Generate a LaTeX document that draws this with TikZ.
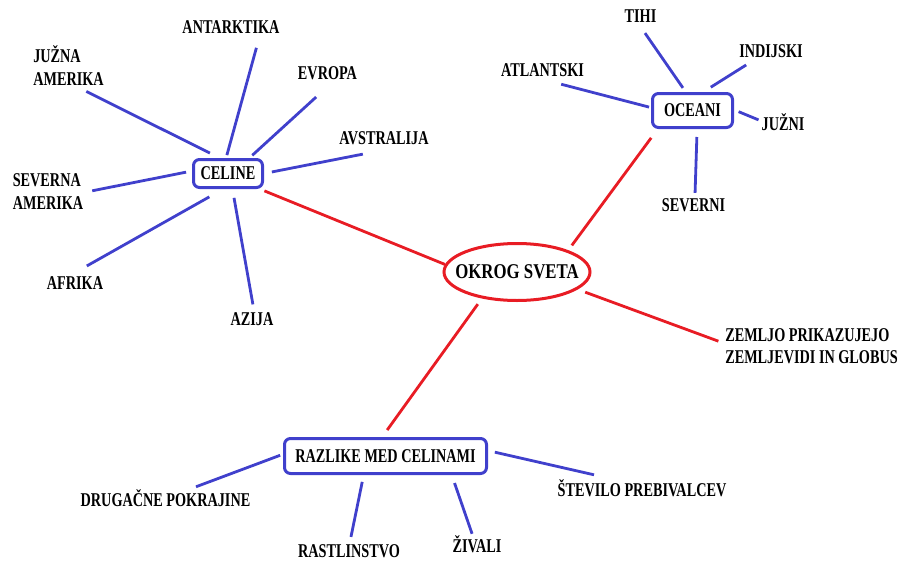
\documentclass[tikz,border=0pt]{standalone}
\usepackage{fontspec}
\setmainfont{Liberation Serif}
\newfontfamily\mapfont{Liberation Serif}[FakeStretch=0.73]
\newfontfamily\hubfont{Liberation Serif}[FakeStretch=0.8]
\usetikzlibrary{shapes.geometric}
\definecolor{mapblue}{RGB}{64,64,204}
\definecolor{mapred}{RGB}{232,28,36}
\tikzset{
  lbl/.style={font=\mapfont\bfseries\fontsize{19.5}{22}\selectfont,
    inner sep=2pt, text height=13pt, text depth=1pt},
  lbltwo/.style={font=\mapfont\bfseries\fontsize{19.5}{22.5}\selectfont,
    inner sep=2pt, align=left},
  hub/.style={draw=mapblue, line width=3pt, rounded corners=6pt,
    inner sep=0pt, text height=13pt, text depth=1pt,
    font=\mapfont\bfseries\fontsize{19.5}{22}\selectfont},
  mainhub/.style={ellipse, draw=mapred, line width=3pt,
    inner xsep=-16pt, inner ysep=0pt, text height=14pt, text depth=1pt,
    minimum width=146pt, minimum height=57pt,
    font=\hubfont\bfseries\fontsize{21}{24}\selectfont},
  blueline/.style={draw=mapblue, line width=2.8pt},
  redline/.style={draw=mapred, line width=2.8pt}
}
\begin{document}
\begin{tikzpicture}[x=1pt,y=-1pt]
  \useasboundingbox (0,0) rectangle (900,562);
  \node[mainhub] (okrog) at (517,272) {OKROG SVETA};
  \node[hub, minimum width=69pt, minimum height=28pt] (celine) at (228,173.5) {CELINE};
  \node[hub, minimum width=80pt, minimum height=34pt] (oceani) at (692.5,110.5) {OCEANI};
  \node[hub, minimum width=202pt, minimum height=35pt] (razlike) at (385.5,456) {RAZLIKE MED CELINAMI};

  \node[lbl] (antarktika) at (231,28) {ANTARKTIKA};
  \node[lbltwo] (juzna) at (68.5,65.5) {JUŽNA\\AMERIKA};
  \node[lbl] (evropa) at (327.5,73) {EVROPA};
  \node[lbl] (avstralija) at (384,138) {AVSTRALIJA};
  \node[lbltwo] (severna) at (48,191.5) {SEVERNA\\AMERIKA};
  \node[lbl] (afrika) at (75,283.5) {AFRIKA};
  \node[lbl] (azija) at (252,319.5) {AZIJA};

  \node[lbl] (tihi) at (640.5,16.5) {TIHI};
  \node[lbl] (indijski) at (771,51.5) {INDIJSKI};
  \node[lbl] (atlantski) at (542.5,70.5) {ATLANTSKI};
  \node[lbl] (juzni) at (783,124) {JUŽNI};
  \node[lbl] (severni) at (693.5,205.5) {SEVERNI};

  \node[lbltwo] (zemljo) at (811.5,346) {ZEMLJO PRIKAZUJEJO\\ZEMLJEVIDI IN GLOBUS};

  \node[lbl] (drugacne) at (165.5,500) {DRUGAČNE POKRAJINE};
  \node[lbl] (rastlinstvo) at (349,551) {RASTLINSTVO};
  \node[lbl] (zivali) at (477,546.5) {ŽIVALI};
  \node[lbl] (stevilo) at (642,490) {ŠTEVILO PREBIVALCEV};

  \begin{scope}[blueline]
    \draw[shorten <=11pt, shorten >=9pt] (celine.118) -- (juzna.-66);
    \draw[shorten <=3pt, shorten >=11pt] (celine.97) -- (antarktika.-18);
    \draw[shorten <=4pt, shorten >=22pt] (celine.36) -- (evropa.-62);
    \draw[shorten <=8pt, shorten >=36pt] (celine.0) -- (avstralija.-33);
    \draw[shorten <=6pt, shorten >=7pt] (celine.176) -- (severna.-1);
    \draw[shorten <=16pt, shorten >=17pt] (celine.-107) -- (afrika.108);
    \draw[shorten <=9pt, shorten >=6pt] (celine.-74) -- (azija.78);
    \draw[shorten <=5pt, shorten >=9pt] (oceani.110) -- (tihi.-94);
    \draw[shorten <=9pt, shorten >=8pt] (oceani.60) -- (indijski.-153);
    \draw[shorten <=2pt, shorten >=18pt] (oceani.176) -- (atlantski.-82);
    \draw[shorten <=5pt, shorten >=1pt] (oceani.1) -- (juzni.171);
    \draw[shorten <=8pt, shorten >=3.5pt] (oceani.-76) -- (severni.81);
    \draw[shorten <=3pt, shorten >=11.5pt] (razlike.179) -- (drugacne.25);
    \draw[shorten <=7pt, shorten >=5pt] (razlike.-139) -- (rastlinstvo.84);
    \draw[shorten <=8.5pt, shorten >=3.7pt] (razlike.-16) -- (zivali.112);
    \draw[shorten <=7pt, shorten >=27pt] (razlike.3) -- (stevilo.157);
  \end{scope}
  \begin{scope}[redline]
    \draw[shorten <=5pt] (celine.-26) -- (okrog.174);
    \draw[shorten <=11pt, shorten >=6pt] (oceani.-152) -- (okrog.23);
    \draw[shorten <=8pt, shorten >=5pt] (okrog.-16) -- (zemljo.178);
    \draw[shorten <=7pt, shorten >=8.6pt] (okrog.-143) -- (razlike.100);
  \end{scope}
\end{tikzpicture}
\end{document}
